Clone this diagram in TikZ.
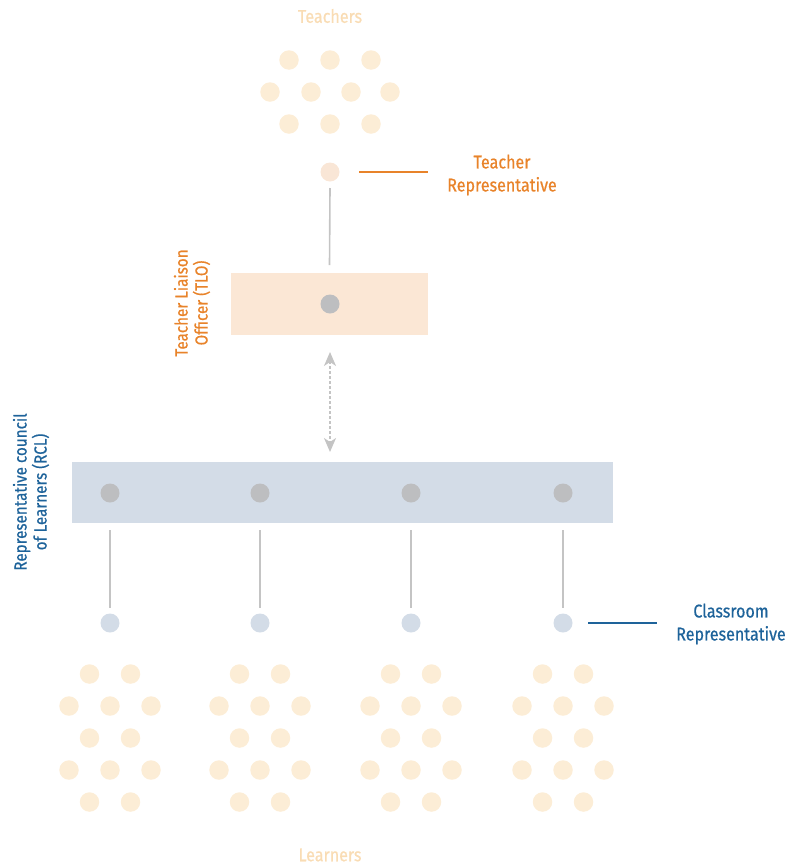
\documentclass[tikz,border=0pt]{standalone}
\usepackage{fontspec}
\setmainfont{Fira Sans}[FakeStretch=0.87,FakeBold=0.6]
\usetikzlibrary{arrows.meta}
\definecolor{peach}{HTML}{FCEDD6}
\definecolor{peachlbl}{HTML}{F9DCB4}
\definecolor{repdot}{HTML}{F9E6D6}
\definecolor{tlofill}{HTML}{FBE7D5}
\definecolor{orangetxt}{HTML}{E8832A}
\definecolor{bluefill}{HTML}{D3DCE7}
\definecolor{bluetxt}{HTML}{1E639A}
\definecolor{greydot}{HTML}{BDBEC0}
\definecolor{greyline}{HTML}{C4C4C4}
\tikzset{
  pdot/.style={circle,fill=peach,minimum size=19.5pt,inner sep=0pt},
  gdot/.style={circle,fill=greydot,minimum size=19pt,inner sep=0pt},
  bdot/.style={circle,fill=bluefill,minimum size=19pt,inner sep=0pt},
  conn/.style={draw=greyline,line width=1.6pt},
  lbl/.style={font=\fontsize{18.5}{23}\selectfont,align=center,inner sep=0pt},
  rlbl/.style={font=\fontsize{17.5}{20}\selectfont,align=center,inner sep=0pt,rotate=90},
}
\begin{document}
\begin{tikzpicture}[x=1pt,y=-1pt]
\useasboundingbox (0,0) rectangle (788,865);
% Teachers
\node[lbl,text=peachlbl] (teachers) at (330,16) {Teachers};
\foreach \x [count=\i] in {289,330,371} \node[pdot] (t1\i) at (\x,60) {};
\foreach \x [count=\i] in {270,311,351,390} \node[pdot] (t2\i) at (\x,92) {};
\foreach \x [count=\i] in {289,330,371} \node[pdot] (t3\i) at (\x,124) {};
% Teacher representative
\node[circle,fill=repdot,minimum size=19pt,inner sep=0pt] (trep) at (330,172) {};
\coordinate (trl1) at (359,172);
\coordinate (trl2) at (428,172);
\draw[orangetxt,line width=1.6pt] (trl1) -- (trl2);
\node[lbl,text=orangetxt] (treplbl) at (502,175) {Teacher\\Representative};
% TLO box
\node[fill=tlofill,minimum width=197pt,minimum height=62pt,inner sep=0pt] (tlo) at (329.5,304) {};
\node[gdot] (tlodot) at (330,304) {};
\draw[conn] ([yshift=-16pt]trep.center) -- (tlo.north |- 0,265);
\node[rlbl,text=orangetxt] (tlolbl) at (192,303) {Teacher Liaison\\Officer (TLO)};
% RCL box
\node[fill=bluefill,minimum width=541pt,minimum height=61pt,inner sep=0pt] (rcl) at (342.5,492.5) {};
\coordinate (ar1) at (330,352);
\coordinate (ar2) at (330,452);
\draw[greyline,line width=1.8pt,dash pattern=on 2.5pt off 2.5pt,{Stealth[length=14pt,width=12pt,inset=4pt]}-{Stealth[length=14pt,width=12pt,inset=4pt]}] (ar1) -- (ar2);
\node[rlbl,text=bluetxt] (rcllbl) at (31,492) {Representative council\\of Learners (RCL)};
% Groups
\foreach \cx [count=\g] in {110,260,411,563} {
  \node[gdot] (rd\g) at (\cx,493) {};
  \node[bdot] (cr\g) at (\cx,623) {};
  \draw[conn] (\cx,530) -- (\cx,608);
  \foreach \dx/\dy [count=\k] in {-20.5/674,20.5/674,-41/706,0/706,41/706,-20.5/738,20.5/738,-41/770,0/770,41/770,-20.5/802,20.5/802}
    \node[pdot] (l\g-\k) at (\cx+\dx,\dy) {};
}
\coordinate (cl1) at (588,623);
\coordinate (cl2) at (657,623);
\draw[bluetxt,line width=1.6pt] (cl1) -- (cl2);
\node[lbl,text=bluetxt] (crlbl) at (731,624) {Classroom\\Representative};
\node[lbl,text=peachlbl] (learners) at (330,855) {Learners};
\end{tikzpicture}
\end{document}
